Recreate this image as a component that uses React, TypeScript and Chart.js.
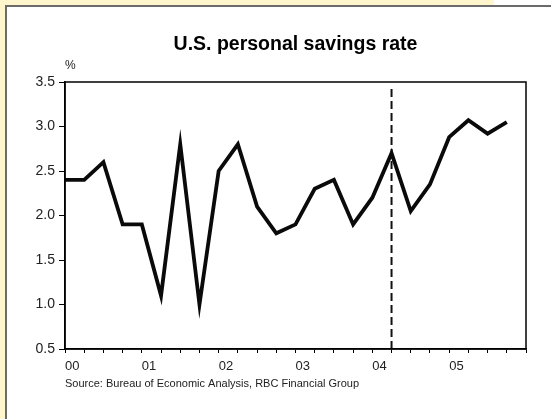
import React, { useEffect, useRef } from "react";
import { Chart, registerables } from "chart.js";

Chart.register(...registerables);

// Quarterly data, 2000Q1 .. 2005Q4
const quarters: number[] = [
  0, 1, 2, 3, 4, 5, 6, 7, 8, 9, 10, 11, 12, 13, 14, 15, 16, 17, 18, 19, 20, 21, 22, 23,
];
const savingsRate: number[] = [
  2.4, 2.4, 2.6, 1.9,
  1.9, 1.1, 2.8, 1.0,
  2.5, 2.8, 2.1, 1.8,
  1.9, 2.3, 2.4, 1.9,
  2.2, 2.7, 2.05, 2.35,
  2.88, 3.07, 2.92, 3.05,
];
const yearLabels: string[] = ["00", "01", "02", "03", "04", "05"];
const markerQuarter = 17; // dashed vertical line (2004 Q2)
const markerRange: number[] = [0.5, 3.45];
const yTicks = { min: 0.5, max: 3.5, step: 0.5 };
const titleText = "U.S. personal savings rate";
const unitText = "%";
const sourceText = "Source: Bureau of Economic Analysis, RBC Financial Group";

const FONT = "'Liberation Sans', Arial, sans-serif";

const framePlugin = {
  id: "frameAndText",
  afterDatasetsDraw(chart: any) {
    const { ctx, chartArea } = chart;
    ctx.save();
    ctx.strokeStyle = "#000";
    ctx.lineWidth = 1.5;
    ctx.strokeRect(chartArea.left, chartArea.top, chartArea.right - chartArea.left, chartArea.bottom - chartArea.top);
    ctx.fillStyle = "#000";
    ctx.font = `bold 19.5px ${FONT}`;
    ctx.textAlign = "center";
    ctx.textBaseline = "middle";
    ctx.fillText(titleText, (chartArea.left + chartArea.right) / 2, 45);
    ctx.fillStyle = "#222";
    ctx.font = `12px ${FONT}`;
    ctx.textAlign = "left";
    ctx.fillText(unitText, chartArea.left, chartArea.top - 16);
    ctx.restore();
  },
};

export default function App() {
  const canvasRef = useRef<HTMLCanvasElement | null>(null);

  useEffect(() => {
    if (!canvasRef.current) return;
    const chart = new Chart(canvasRef.current, {
      type: "line",
      data: {
        datasets: [
          {
            label: "Savings rate",
            data: quarters.map((q, i) => ({ x: q, y: savingsRate[i] })),
            borderColor: "#0a0a0a",
            borderWidth: 3.8,
            pointRadius: 0,
            tension: 0,
            borderJoinStyle: "miter",
          },
          {
            label: "Marker",
            data: markerRange.map((v) => ({ x: markerQuarter, y: v })),
            borderColor: "#111",
            borderWidth: 2,
            borderDash: [8, 4],
            pointRadius: 0,
          },
        ],
      },
      options: {
        animation: false,
        responsive: false,
        layout: { padding: { left: 0, right: 25, top: 82, bottom: 20 } },
        plugins: {
          legend: { display: false },
          tooltip: { enabled: false },
          title: { display: false },
        },
        scales: {
          x: {
            type: "linear",
            min: 0,
            max: 24,
            afterFit: (scale: any) => {
              scale.height = 50;
            },
            border: { display: true, color: "#000", width: 1.5 },
            grid: {
              display: true,
              drawOnChartArea: false,
              drawTicks: true,
              tickLength: 4,
              tickColor: "#000",
              tickWidth: 1,
            },
            ticks: {
              stepSize: 1,
              autoSkip: false,
              maxRotation: 0,
              align: "start",
              padding: 6,
              color: "#222",
              font: { family: FONT, size: 13 },
              callback: (v: any) => {
                const n = Number(v);
                return n % 4 === 0 && n / 4 < yearLabels.length ? yearLabels[n / 4] : "";
              },
            },
            title: {
              display: true,
              text: sourceText,
              align: "start",
              color: "#222",
              font: { family: FONT, size: 11 },
              padding: { top: 0, bottom: 8 },
            },
          },
          y: {
            min: yTicks.min,
            max: yTicks.max,
            afterFit: (scale: any) => {
              scale.width = 65;
            },
            border: { display: true, color: "#000", width: 1.5 },
            grid: {
              display: true,
              drawOnChartArea: false,
              drawTicks: true,
              tickLength: 6,
              tickColor: "#000",
            },
            ticks: {
              stepSize: yTicks.step,
              padding: 4,
              color: "#222",
              font: { family: FONT, size: 14 },
              callback: (v: any) => Number(v).toFixed(1),
            },
          },
        },
      },
      plugins: [framePlugin],
    } as any);
    return () => chart.destroy();
  }, []);

  return (
    <div style={{ position: "relative", width: 551, height: 419, background: "#fff", overflow: "hidden" }}>
      <style>{`body{margin:0}`}</style>
      <div style={{ position: "absolute", left: 0, top: 0, width: 494, height: 5, background: "#FFF6CE" }} />
      <div style={{ position: "absolute", left: 0, top: 0, width: 5, height: 419, background: "#FFF6CE" }} />
      <div
        style={{
          position: "absolute",
          left: 5,
          top: 5,
          width: 560,
          height: 430,
          background: "#fff",
          borderTop: "2px solid #6b6b6b",
          borderLeft: "2px solid #6b6b6b",
        }}
      />
      <canvas
        ref={canvasRef}
        width={551}
        height={419}
        style={{ position: "absolute", left: 0, top: 0, width: 551, height: 419 }}
      />
    </div>
  );
}
